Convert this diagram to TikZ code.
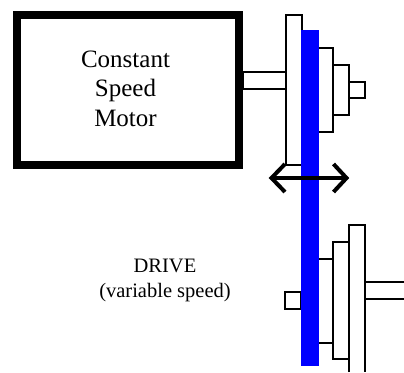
\documentclass[tikz,border=0pt]{standalone}
\usepackage{fontspec}
\setmainfont{Liberation Serif}
\tikzset{
  px/.style={x=1pt,y=-1pt},
  part/.style={draw=black,fill=white,line width=1.8pt,line join=miter},
  belt/.style={fill=blue,draw=none},
  label/.style={align=center,inner sep=0pt,text=black},
  dbl/.style={line width=4pt,miter limit=10}
}
\begin{document}
\begin{tikzpicture}[px]
\useasboundingbox (0,0) rectangle (404,372);
% upper pulley
\draw[part] (243,72) rectangle (286,89);
\draw[part] (286,15) rectangle (302,165);
\draw[part] (318,48) rectangle (333,132);
\draw[part] (333,65) rectangle (349,115);
\draw[part] (349,82) rectangle (365,98);
% lower pulley
\draw[part] (285,292) rectangle (301,309);
\draw[part] (318,259) rectangle (333,343);
\draw[part] (333,242) rectangle (349,359);
\draw[part] (349,372) -- (349,225) -- (365,225) -- (365,372);
\draw[part] (404,282) -- (365,282) -- (365,299) -- (404,299);
% belt
\fill[belt] (300.5,30) rectangle (318.5,366);
% motor
\node[draw=black,fill=white,line width=8pt,minimum width=222pt,minimum height=150pt,inner sep=0pt,outer sep=0pt,anchor=center] (motor) at (128,90) {};
\node[label,font=\fontsize{25}{29.5}\selectfont,anchor=base] (motortext) at (125.5,126) {Constant\\Speed\\Motor};
\node[label,font=\fontsize{20.5}{24.5}\selectfont,anchor=base] (drive) at (165,297) {DRIVE\\(variable speed)};
% double arrow
\coordinate (al) at (271.5,178);
\coordinate (ar) at (346.5,178);
\draw[dbl] (al) -- (ar);
\draw[dbl] (285,164) -- (al) -- (285,192);
\draw[dbl] (333.5,164) -- (ar) -- (333.5,192);
\end{tikzpicture}
\end{document}
